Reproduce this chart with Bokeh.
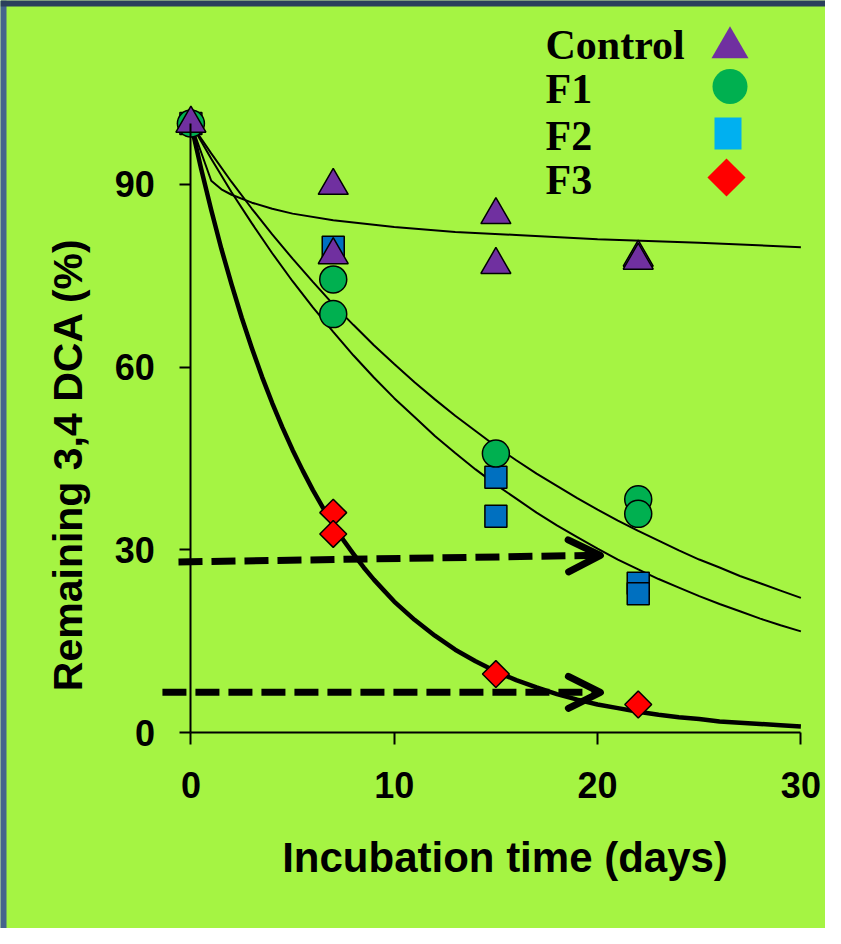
import numpy as np
from bokeh.plotting import figure
from bokeh.models import (Range1d, LinearAxis, FixedTicker, Label, Arrow, OpenHead,
                          Span, Grid)
from bokeh.core.properties import value
from bokeh.embed import file_html
from bokeh.resources import INLINE

# ---------------- data ----------------
series_names = ["Control", "F1", "F2", "F3"]

ctrl_days = [0, 7, 7, 15, 15, 22, 22]
ctrl_vals = [100, 89.8, 78.4, 85.0, 76.8, 78.0, 77.5]

f1_days = [0, 7, 7, 15, 22, 22]
f1_vals = [100, 74.4, 68.7, 45.8, 38.3, 35.9]

f2_days = [0, 7, 15, 15, 22, 22]
f2_vals = [100, 79.7, 41.9, 35.5, 24.5, 22.8]

f3_days = [0, 7, 7, 15, 22]
f3_vals = [100, 36.1, 32.6, 9.6, 4.6]

# fitted curves, values
ctrl_fit_x = [0, 1, 1.5, 2, 3, 4, 5, 7, 10, 13, 16, 20, 25, 30]
ctrl_fit_y = [100, 90.6, 89.2, 88.3, 87.0, 86.0, 85.2, 84.1, 83.0, 82.2, 81.7, 81.0, 80.4, 79.7]

fit_x = list(range(0, 31))
f1_fit_y = [100, 95.1, 90.4, 86.0, 81.8, 77.8, 74.0, 70.3, 66.9, 63.6, 60.5, 57.5, 54.7,
            52.0, 49.5, 47.0, 44.7, 42.5, 40.5, 38.5, 36.6, 34.8, 33.1, 31.5, 29.9,
            28.4, 27.1, 25.7, 24.5, 23.3, 22.1]
f2_fit_y = [100, 94.2, 88.7, 83.6, 78.7, 74.1, 69.8, 65.8, 61.9, 58.3, 54.9, 51.8, 48.7,
            45.9, 43.2, 40.7, 38.4, 36.1, 34.0, 32.1, 30.2, 28.4, 26.8, 25.2, 23.8,
            22.4, 21.1, 19.9, 18.7, 17.6, 16.6]

f3_fit_x = [0, 0.5, 1, 1.5, 2, 2.5, 3, 3.5, 4, 4.5, 5, 5.5, 6, 6.5, 7, 7.5, 8, 8.5, 9, 9.5,
            10, 11, 12, 13, 14, 15, 16, 17, 18, 19, 20, 21, 22, 23, 24, 25, 26, 27, 28, 29, 30]
f3_fit_y = [100, 92.6, 85.8, 79.4, 73.6, 68.1, 63.1, 58.4, 54.1, 50.1, 46.4, 43.0, 39.8,
            36.9, 34.1, 31.6, 29.3, 27.1, 25.1, 23.3, 21.5, 18.5, 15.9, 13.6, 11.7, 10.0,
            8.6, 7.4, 6.3, 5.4, 4.6, 4.0, 3.4, 2.9, 2.5, 2.2, 1.8, 1.6, 1.4, 1.2, 1.0]

# dashed arrows: (start day, start %, end day, end %)
arrows = [(-0.61, 28.0, 20.14, 29.1), (-1.40, 6.6, 20.14, 6.6)]

x_ticks = [0, 10, 20, 30]
y_ticks = [0, 30, 60, 90]
x_title = "Incubation time (days)"
y_title = "Remaining 3,4 DCA (%)"

# ---------------- layout ----------------
W, H = 825, 928
x0_px, px_per_day = 190.4, 20.333     # screen x of day 0, pixels per day
y0_px, px_per_pct = 732.0, 6.09       # screen y (from top) of 0 %, pixels per %
BG = "#A5F443"

x_range = Range1d(-x0_px / px_per_day, (W - x0_px) / px_per_day)
y_range = Range1d(-(H - y0_px) / px_per_pct, y0_px / px_per_pct)

def sx(px):   # screen px -> day
    return (px - x0_px) / px_per_day

def sy(py):   # screen px (from top) -> %
    return (y0_px - py) / px_per_pct

p = figure(width=W, height=H, x_range=x_range, y_range=y_range,
           x_axis_location=None, y_axis_location=None,
           output_backend="svg", toolbar_location=None, min_border=0)
p.background_fill_color = BG
p.border_fill_color = BG
p.outline_line_color = None
for r in list(p.center):
    if isinstance(r, Grid):
        r.visible = False

SANS = "Liberation Sans"
SERIF = "Liberation Serif"

xaxis = LinearAxis(fixed_location=0, ticker=FixedTicker(ticks=x_ticks), bounds=(0, 30))
yaxis = LinearAxis(fixed_location=0, ticker=FixedTicker(ticks=y_ticks), bounds=(0, 100))
for ax, tout, stand in ((xaxis, 12, 27), (yaxis, 11, 25)):
    ax.axis_line_width = 2
    ax.axis_line_color = "black"
    ax.major_tick_line_width = 2
    ax.major_tick_line_color = "black"
    ax.major_tick_in = 0
    ax.major_tick_out = tout
    ax.minor_tick_in = 0
    ax.minor_tick_out = 0
    ax.major_label_text_font = SANS
    ax.major_label_text_font_style = "bold"
    ax.major_label_text_font_size = "36px"
    ax.major_label_text_color = "black"
    ax.major_label_standoff = stand
p.add_layout(xaxis, "below")
p.add_layout(yaxis, "left")

# frame edges (left and top)
p.add_layout(Span(location=x_range.start, dimension="height",
                  line_color="#45648C", line_width=12))
p.add_layout(Span(location=y_range.end, dimension="width",
                  line_color="#2B3F5C", line_width=12))

# fitted curves
p.line(ctrl_fit_x, ctrl_fit_y, line_color="black", line_width=2)
p.line(fit_x, f1_fit_y, line_color="black", line_width=2)
p.line(fit_x, f2_fit_y, line_color="black", line_width=2)
p.line(f3_fit_x, f3_fit_y, line_color="black", line_width=4.5, line_join="round")

# dashed arrows
for xs, ys, xe, ye in arrows:
    p.add_layout(Arrow(x_start=xs, y_start=ys, x_end=xe, y_end=ye,
                       line_color="black", line_width=7, line_dash="24 9",
                       end=OpenHead(size=32, line_width=7, line_color="black",
                                    line_cap="round", line_join="round")))

# data points
p.scatter(f3_days, f3_vals, marker="square", angle=np.pi / 4, size=19,
          fill_color="#FF0000", line_color="black", line_width=1.5)
p.scatter(f2_days, f2_vals, marker="square", size=22,
          fill_color="#0070C0", line_color="black", line_width=1.5)
p.scatter(f1_days, f1_vals, marker="circle", size=27,
          fill_color="#00B050", line_color="black", line_width=1.5)
p.scatter(ctrl_days, ctrl_vals, marker="triangle", size=30,
          fill_color="#7030A0", line_color="black", line_width=1.5)

# legend (text left, symbol right)
row_px = [42, 86, 133, 177]
p.text(x=[sx(545)] * 4, y=[sy(r + 2) for r in row_px], text=series_names,
       text_font=value(SERIF), text_font_style="bold", text_font_size="42px",
       text_color="black", text_align="left", text_baseline="alphabetic")
p.scatter([sx(729.5)], [sy(row_px[0] + 5)], marker="triangle", size=37,
          fill_color="#7030A0", line_color=None)
p.scatter([sx(729.5)], [sy(row_px[1])], marker="circle", size=35,
          fill_color="#00B050", line_color=None)
p.rect([sx(727.5)], [sy(row_px[2])], width=27, height=32,
       width_units="screen", height_units="screen",
       fill_color="#00B0F0", line_color=None)
p.scatter([sx(726)], [sy(row_px[3])], marker="square", angle=np.pi / 4, size=27,
          fill_color="#FF0000", line_color=None)

# axis titles
p.add_layout(Label(x=sx(504.5), y=sy(857), text=x_title,
                   text_font=SANS, text_font_style="bold", text_font_size="42px",
                   text_color="black", text_align="center", text_baseline="alphabetic"))
p.add_layout(Label(x=sx(67), y=sy(464), text=y_title, angle=np.pi / 2,
                   text_font=SANS, text_font_style="bold", text_font_size="41px",
                   text_color="black", text_align="center", text_baseline="alphabetic"))

open("out.html", "w").write(file_html(p, INLINE))
